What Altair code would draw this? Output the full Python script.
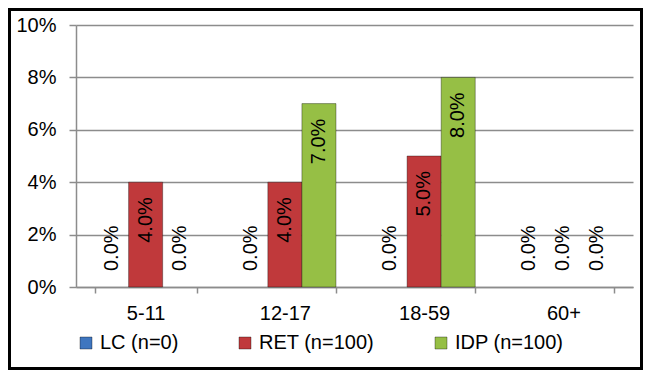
import altair as alt
import pandas as pd

categories = ["5-11", "12-17", "18-59", "60+"]
series = ["LC (n=0)", "RET (n=100)", "IDP (n=100)"]
lc_values = [0.0, 0.0, 0.0, 0.0]
ret_values = [0.04, 0.04, 0.05, 0.0]
idp_values = [0.0, 0.07, 0.08, 0.0]
colors = ["#3F76BF", "#C0393B", "#96BF45"]
y_ticks = [0, 0.02, 0.04, 0.06, 0.08, 0.10]

rows = []
for s, vals in zip(series, [lc_values, ret_values, idp_values]):
    for c, v in zip(categories, vals):
        rows.append({"cat": c, "series": s, "value": v})
df = pd.DataFrame(rows)

FONT = "Liberation Sans"
W, H = 557, 262

x_enc = alt.X("cat:N", sort=categories, title=None,
              scale=alt.Scale(paddingInner=0.266, paddingOuter=0.133),
              axis=alt.Axis(labelAngle=0, labelFontSize=20, labelFont=FONT,
                            labelColor="#000000", labelPadding=10,
                            tickBand="extent", tickSize=6, tickColor="#8c8c8c",
                            tickWidth=1.5, domainColor="#8c8c8c", domainWidth=1.5,
                            grid=False))
xoff = alt.XOffset("series:N", sort=series, scale=alt.Scale(paddingInner=0, paddingOuter=0))
y_enc = alt.Y("value:Q", title=None,
              scale=alt.Scale(domain=[0, 0.10], nice=False),
              axis=alt.Axis(values=y_ticks, format=".0%", labelFontSize=20,
                            labelFont=FONT, labelColor="#000000", labelPadding=13,
                            tickSize=7, tickColor="#8c8c8c", tickWidth=1.5,
                            domainColor="#8c8c8c", domainWidth=1.5,
                            grid=True, gridColor="#8c8c8c", gridWidth=1.5))

bars = alt.Chart(df).mark_bar(stroke="#000000", strokeWidth=1).encode(
    x=x_enc, xOffset=xoff, y=y_enc,
    strokeOpacity=alt.condition("datum.value > 0", alt.value(0.35), alt.value(0)),
    color=alt.Color("series:N", sort=series,
                    scale=alt.Scale(domain=series, range=colors),
                    legend=alt.Legend(title=None, orient="none", direction="horizontal",
                                      legendX=0, legendY=308, symbolType="square",
                                      symbolSize=144, symbolStrokeWidth=1,
                                      symbolStrokeColor="rgba(0,0,0,0.35)",
                                      labelFontSize=20, labelFont=FONT,
                                      labelColor="#000000", labelOffset=4,
                                      columnPadding=56, padding=0))
)

text_base = alt.Chart(df).encode(
    x=alt.X("cat:N", sort=categories),
    xOffset=alt.XOffset("series:N", sort=series),
    y=alt.Y("value:Q"),
    text=alt.Text("value:Q", format=".1%"),
)
labels_pos = text_base.transform_filter("datum.value > 0").mark_text(
    angle=270, align="right", baseline="middle", dx=-15,
    fontSize=20, font=FONT, color="#000000")
labels_zero = text_base.transform_filter("datum.value <= 0").mark_text(
    angle=270, align="left", baseline="middle", dx=16,
    fontSize=20, font=FONT, color="#000000")

border = alt.Chart(pd.DataFrame({"a": [0]})).mark_rect(
    fill=None, stroke="#000000", strokeWidth=3, clip=False).encode(
    x=alt.value(-66.5), x2=alt.value(W + 8.5),
    y=alt.value(-15.5), y2=alt.value(H + 81.5))

chart = alt.layer(bars, labels_pos, labels_zero, border).properties(
    width=W, height=H,
    autosize=alt.AutoSizeParams(type="none"),
    padding={"left": 68, "top": 17, "right": 10, "bottom": 83},
    background="#ffffff",
).configure_view(stroke=None)

chart.save("out.html", embed_options={"renderer": "svg", "actions": False})
